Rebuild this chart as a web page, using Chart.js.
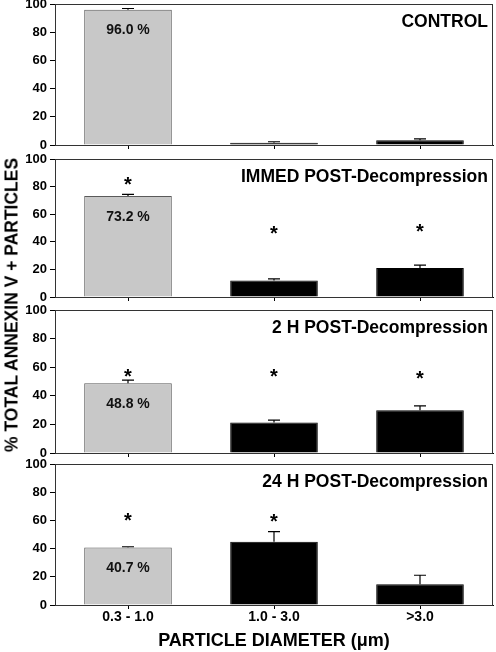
<!DOCTYPE html>
<html><head><meta charset="utf-8">
<script src="https://cdn.jsdelivr.net/npm/chart.js@4/dist/chart.umd.min.js"></script>
<style>
html,body{margin:0;padding:0;background:#fff;}
#wrap{position:relative;width:496px;height:652px;overflow:hidden;background:#fff;}
#wrap canvas{position:absolute;left:0;}
#ytitle{position:absolute;left:12px;top:305px;transform:translate(-50%,-50%) rotate(-90deg);white-space:nowrap;font:bold 17.5px "Liberation Sans",Arial,sans-serif;color:#000;}
</style></head><body>
<div id="wrap">
<canvas id="c1" width="496" height="151" style="top:0px"></canvas>
<canvas id="c2" width="496" height="152" style="top:151px"></canvas>
<canvas id="c3" width="496" height="157" style="top:302px"></canvas>
<canvas id="c4" width="496" height="196" style="top:456px"></canvas>
<div id="ytitle">% TOTAL ANNEXIN V + PARTICLES</div>
</div>
<script>
// ---- data ----
const categories = ['0.3 - 1.0', '1.0 - 3.0', '>3.0'];
const yTicks = [0, 20, 40, 60, 80, 100];
const panelTitles = ['CONTROL', 'IMMED POST-Decompression', '2 H POST-Decompression', '24 H POST-Decompression'];
const xAxisTitle = 'PARTICLE DIAMETER (\u03BCm)';

const controlValues = [96.0, 1.6, 3.3];
const controlErrors = [0.8, 0.7, 1.0];
const controlStars  = [null, null, null];

const immedValues = [73.2, 12.0, 21.0];
const immedErrors = [1.2, 1.2, 2.1];
const immedStars  = [83.5, 47.8, 49.0];

const h2Values = [48.8, 21.4, 29.9];
const h2Errors = [2.2, 1.6, 3.1];
const h2Stars  = [55.5, 55.5, 54.0];

const h24Values = [40.7, 44.9, 14.7];
const h24Errors = [0.6, 7.1, 6.4];
const h24Stars  = [62.0, 60.8, null];

// ---- rendering ----
const FONT = '"Liberation Sans", Arial, sans-serif';
Chart.defaults.font.family = FONT;
Chart.defaults.color = '#000';

const annotPlugin = {
  id: 'annot',
  afterDatasetsDraw(chart, args, opts) {
    const ctx = chart.ctx;
    const y = chart.scales.y;
    const ca = chart.chartArea;
    const meta = chart.getDatasetMeta(0);
    const vals = chart.data.datasets[0].data;
    ctx.save();
    // error bars (upper only)
    ctx.strokeStyle = '#000';
    ctx.lineWidth = 1.2;
    vals.forEach((v, i) => {
      const cx = meta.data[i].x;
      const y0 = y.getPixelForValue(v);
      const y1 = y.getPixelForValue(v + opts.errors[i]);
      ctx.beginPath();
      ctx.moveTo(cx, y0); ctx.lineTo(cx, y1);
      ctx.moveTo(cx - 6, y1); ctx.lineTo(cx + 6, y1);
      ctx.stroke();
    });
    // percentage label on first bar
    ctx.fillStyle = '#111';
    ctx.font = 'bold 14px ' + FONT;
    ctx.textAlign = 'center';
    ctx.textBaseline = 'middle';
    const b0 = meta.data[0];
    ctx.fillText(vals[0].toFixed(1) + ' %', b0.x, y.getPixelForValue(vals[0]) + 21);
    // significance stars
    ctx.fillStyle = '#000';
    ctx.font = 'bold 20px ' + FONT;
    ctx.textBaseline = 'alphabetic';
    opts.stars.forEach((s, i) => {
      if (s === null) return;
      ctx.fillText('*', meta.data[i].x, y.getPixelForValue(s) + 9);
    });
    // panel title
    ctx.font = 'bold 17.5px ' + FONT;
    ctx.textAlign = 'right';
    ctx.textBaseline = 'middle';
    ctx.fillText(opts.title, ca.right - 5, ca.top + 18);
    // frame
    ctx.strokeStyle = '#333';
    ctx.lineWidth = 1;
    ctx.strokeRect(ca.left + 0.5, ca.top + 0.5, ca.right - ca.left - 1, ca.bottom - ca.top);
    ctx.restore();
  }
};

function makePanel(id, values, errors, stars, title, topPad, xHeight, showX) {
  new Chart(document.getElementById(id), {
    type: 'bar',
    data: {
      labels: categories,
      datasets: [{
        data: values,
        backgroundColor: ['#c8c8c8', '#000', '#000'],
        borderColor: ['#5a5a5a', '#000', '#000'],
        borderWidth: 1,
        barPercentage: 0.6,
        categoryPercentage: 1.0
      }]
    },
    options: {
      responsive: false,
      animation: false,
      layout: { padding: { top: topPad, right: 3, left: 0, bottom: 0 } },
      plugins: {
        legend: { display: false },
        tooltip: { enabled: false },
        annot: { errors: errors, stars: stars, title: title }
      },
      scales: {
        x: {
          offset: true,
          grid: { display: true, drawOnChartArea: false, offset: false, tickLength: 4, color: '#000' },
          border: { display: true, color: '#000', width: 1 },
          ticks: { display: showX, font: { size: 14, weight: 'bold' }, color: '#000', padding: 0, maxRotation: 0 },
          title: { display: showX, text: xAxisTitle, font: { size: 18, weight: 'bold' }, color: '#000', padding: 0 },
          afterFit(s) { s.height = xHeight; s.paddingLeft = 0; s.paddingRight = 0; }
        },
        y: {
          min: 0, max: 100,
          afterBuildTicks(s) { s.ticks = yTicks.map(v => ({ value: v })); },
          grid: { display: true, drawOnChartArea: false, tickLength: 5, color: '#000' },
          border: { display: true, color: '#000', width: 1 },
          ticks: { font: { size: 13, weight: 'bold' }, color: '#000', padding: 3 },
          afterFit(s) { s.width = 55; s.paddingTop = 0; s.paddingBottom = 0; }
        }
      }
    },
    plugins: [annotPlugin]
  });
}

makePanel('c1', controlValues, controlErrors, controlStars, panelTitles[0], 4, 6, false);
makePanel('c2', immedValues, immedErrors, immedStars, panelTitles[1], 8, 6, false);
makePanel('c3', h2Values, h2Errors, h2Stars, panelTitles[2], 8, 6, false);
makePanel('c4', h24Values, h24Errors, h24Stars, panelTitles[3], 8, 47, true);
</script>
</body></html>
